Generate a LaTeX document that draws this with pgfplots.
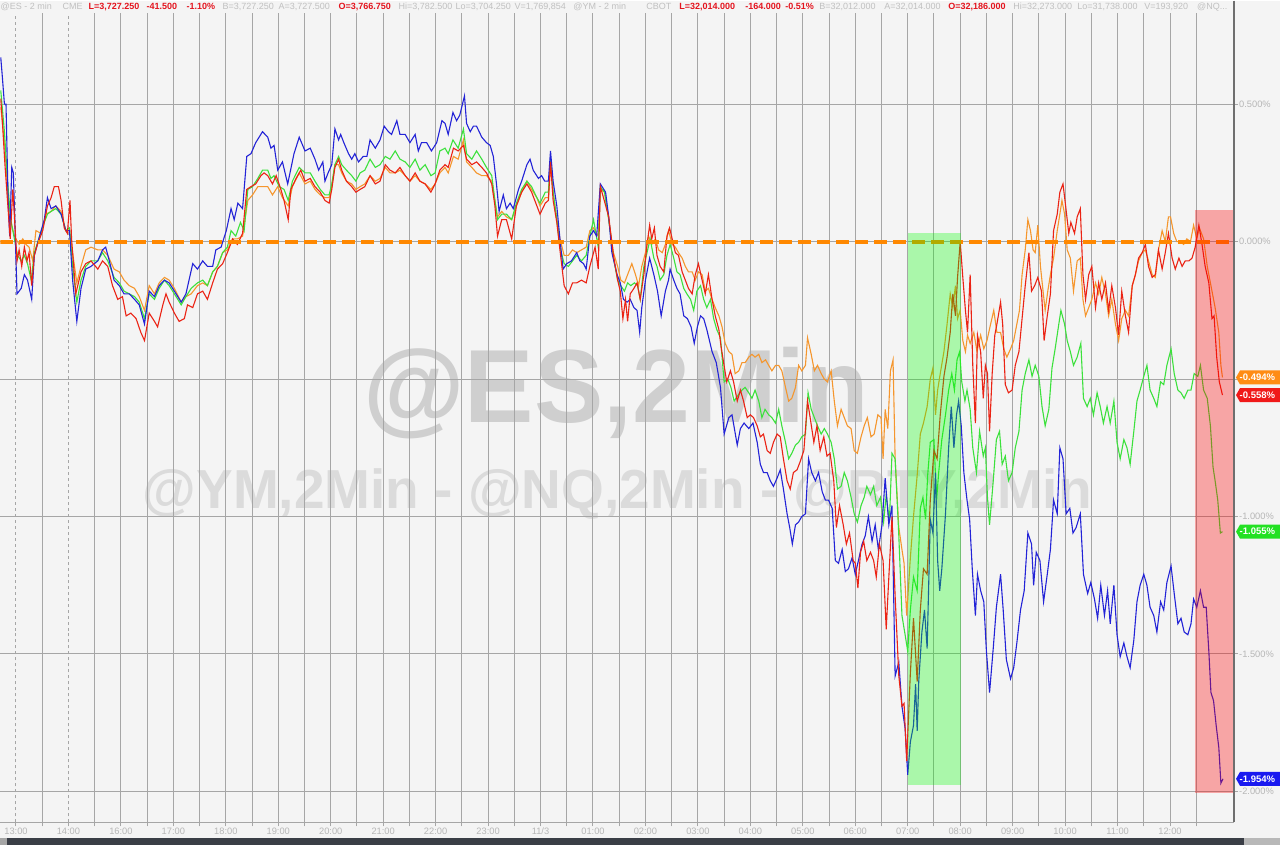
\documentclass[border=0pt]{standalone}
\usepackage{pgfplots}
\pgfplotsset{compat=1.18}
\usepackage{fontspec}
\setmainfont{Liberation Sans}
\definecolor{bg}{RGB}{244,244,244}
\definecolor{gridc}{RGB}{166,166,166}
\definecolor{lbl}{RGB}{182,182,182}
\definecolor{hdr}{RGB}{192,192,192}
\definecolor{hred}{RGB}{228,20,30}
\definecolor{cblue}{RGB}{35,35,215}
\definecolor{cred}{RGB}{235,35,20}
\definecolor{corange}{RGB}{245,150,45}
\definecolor{cgreen}{RGB}{60,225,60}
\definecolor{zorange}{RGB}{255,136,0}
\definecolor{wmA}{RGB}{207,207,207}
\definecolor{wmB}{RGB}{219,219,219}
\definecolor{darkbar}{RGB}{58,62,70}
\definecolor{bordc}{RGB}{110,110,110}
\definecolor{boxo}{RGB}{255,140,20}
\definecolor{boxr}{RGB}{240,25,25}
\definecolor{boxg}{RGB}{35,225,35}
\definecolor{boxb}{RGB}{25,25,240}
\begin{document}
\begin{tikzpicture}[x=1pt,y=1pt]
\fill[bg] (0,-23) rectangle (1280,822);
% watermarks
\node[anchor=base, text=wmA, font=\bfseries\fontsize{104}{104}\selectfont, inner sep=0] at (616,400) {@ES,2Min};
\node[anchor=base, text=wmB, font=\bfseries\fontsize{55}{55}\selectfont, inner sep=0] at (617,314) {@YM,2Min - @NQ,2Min - @RTY,2Min};
\begin{axis}[
  scale only axis, width=1234pt, height=810pt,
  xmin=-0.295, xmax=23.22, ymin=-2.1127, ymax=0.8327,
  axis line style={draw=none},
  xtick={2,...,22},
  xticklabels={16:00,17:00,18:00,19:00,20:00,21:00,22:00,23:00,11/3,01:00,02:00,03:00,04:00,05:00,06:00,07:00,08:00,09:00,10:00,11:00,12:00},
  extra x ticks={0,1},
  extra x tick labels={13:00,14:00},
  extra x tick style={grid=major, major grid style={draw=gridc, line width=1pt, dash pattern=on 3pt off 3pt}},
  minor xtick={0.5,1.5,...,22.5},
  xmajorgrids, xminorgrids, ymajorgrids,
  major grid style={draw=gridc, line width=1pt},
  minor grid style={draw=gridc, line width=1pt},
  ytick={-2,-1.5,-1,-0.5,0,0.5},
  yticklabels={-2.000\%,-1.500\%,-1.000\%,-0.500\%,0.000\%,0.500\%},
  xtick pos=left, ytick pos=right, yticklabel pos=right,
  tick align=outside,
  major tick length=4pt, minor tick length=4pt,
  tick style={draw=gridc, line width=1pt},
  xticklabel style={font=\fontsize{9.3}{9.3}\selectfont, text=lbl, inner sep=1pt},
  yticklabel style={font=\fontsize{9.3}{9.3}\selectfont, text=lbl, inner sep=1pt, anchor=west},
]
% orange series
\addplot[corange, line width=1.1pt] coordinates {
(-0.29,0.49) (-0.21,0.34) (-0.13,0.10) (-0.03,0.02) (0.06,-0.01) (0.13,0.01) (0.19,-0.01) (0.25,-0.02) (0.32,-0.07) (0.38,0.04) (0.48,0.03) (0.57,0.10) (0.67,0.11) (0.76,0.13) (0.86,0.11) (0.95,0.04) (1.02,0.04) (1.08,-0.04) (1.16,-0.15) (1.24,-0.09) (1.33,-0.03) (1.43,-0.02) (1.56,-0.03) (1.65,-0.03) (1.75,-0.05) (1.87,-0.10) (1.97,-0.11) (2.06,-0.14) (2.16,-0.16) (2.26,-0.17) (2.35,-0.20) (2.45,-0.25) (2.54,-0.16) (2.64,-0.19) (2.73,-0.15) (2.83,-0.13) (2.92,-0.14) (3.02,-0.17) (3.15,-0.22) (3.24,-0.20) (3.34,-0.19) (3.46,-0.16) (3.56,-0.15) (3.65,-0.16) (3.75,-0.11) (3.84,-0.09) (3.94,-0.04) (4.03,-0.03) (4.13,0.01) (4.22,0.01) (4.32,0.02) (4.42,0.15) (4.51,0.17) (4.61,0.20) (4.70,0.20) (4.80,0.20) (4.89,0.17) (4.99,0.20) (5.08,0.16) (5.19,0.13) (5.27,0.20) (5.40,0.25)
(5.51,0.21) (5.61,0.22) (5.70,0.19) (5.80,0.17) (5.89,0.16) (5.97,0.16) (6.02,0.20) (6.08,0.28) (6.15,0.28) (6.21,0.25) (6.30,0.22) (6.40,0.21) (6.48,0.19) (6.56,0.20) (6.65,0.21) (6.75,0.24) (6.85,0.22) (6.94,0.23) (7.04,0.27) (7.13,0.25) (7.23,0.25) (7.32,0.26) (7.42,0.24) (7.51,0.22) (7.61,0.24) (7.70,0.22) (7.80,0.21) (7.91,0.19) (7.99,0.21) (8.08,0.25) (8.18,0.27) (8.24,0.25) (8.34,0.31) (8.43,0.30) (8.53,0.37) (8.59,0.29) (8.69,0.27) (8.78,0.25) (8.88,0.24) (8.97,0.24) (9.07,0.22) (9.13,0.15) (9.18,0.09) (9.26,0.11) (9.35,0.09) (9.45,0.08) (9.54,0.13) (9.64,0.18) (9.74,0.22) (9.83,0.19) (9.93,0.16) (9.99,0.13) (10.09,0.16) (10.15,0.16) (10.19,0.28) (10.24,0.18) (10.31,0.08) (10.37,0.01) (10.45,-0.05) (10.53,-0.05) (10.61,-0.03) (10.69,-0.04) (10.78,-0.03) (10.87,-0.02) (10.94,0.04) (11.01,0.05) (11.10,0.02)
(11.14,0.19) (11.22,0.18) (11.30,0.08) (11.39,-0.04) (11.47,-0.09) (11.53,-0.14) (11.60,-0.15) (11.68,-0.11) (11.74,-0.08) (11.81,-0.12) (11.87,-0.16) (11.93,-0.09) (12.00,-0.04) (12.06,0.02) (12.12,-0.01) (12.19,0.01) (12.25,-0.03) (12.32,-0.04) (12.38,-0.01) (12.44,0.04) (12.51,-0.01) (12.57,-0.02) (12.63,-0.04) (12.70,-0.06) (12.76,-0.09) (12.82,-0.11) (12.89,-0.11) (12.95,-0.14) (13.01,-0.11) (13.08,-0.12) (13.14,-0.18) (13.20,-0.17) (13.27,-0.21) (13.33,-0.24) (13.40,-0.27) (13.46,-0.31) (13.52,-0.37) (13.59,-0.40) (13.65,-0.41) (13.71,-0.48) (13.78,-0.47) (13.84,-0.44) (13.90,-0.44) (13.97,-0.42) (14.03,-0.41) (14.09,-0.42) (14.16,-0.41) (14.22,-0.44) (14.29,-0.43) (14.35,-0.45) (14.41,-0.47) (14.48,-0.45) (14.54,-0.45) (14.60,-0.47) (14.67,-0.53) (14.73,-0.58) (14.79,-0.57) (14.86,-0.53) (14.92,-0.45) (14.98,-0.47) (15.05,-0.45) (15.09,-0.35) (15.16,-0.41) (15.22,-0.47) (15.28,-0.45) (15.35,-0.48) (15.41,-0.50) (15.47,-0.51) (15.54,-0.47) (15.60,-0.58) (15.66,-0.67) (15.73,-0.61) (15.79,-0.64) (15.85,-0.67) (15.92,-0.68) (15.98,-0.76) (16.04,-0.77) (16.11,-0.71) (16.17,-0.67) (16.23,-0.64) (16.30,-0.71) (16.36,-0.70) (16.43,-0.63) (16.49,-0.64) (16.53,-0.79) (16.57,-0.61) (16.62,-0.68) (16.67,-0.47) (16.72,-0.43) (16.76,-0.79) (16.83,-1.04) (16.89,-1.12) (16.93,-1.17) (16.98,-1.36)
(17.05,-1.15) (17.11,-1.00) (17.18,-0.85) (17.24,-0.70) (17.30,-0.66) (17.37,-0.60) (17.43,-0.50) (17.48,-0.46) (17.53,-0.63) (17.57,-0.54) (17.62,-0.48) (17.69,-0.40) (17.75,-0.30) (17.81,-0.19) (17.86,-0.24) (17.91,-0.16) (17.95,-0.28) (18.00,-0.25) (18.05,-0.36) (18.10,-0.40) (18.14,-0.34) (18.19,-0.37) (18.26,-0.33) (18.32,-0.40) (18.39,-0.34) (18.45,-0.39) (18.51,-0.36) (18.58,-0.30) (18.64,-0.25) (18.70,-0.33) (18.77,-0.33) (18.83,-0.39) (18.89,-0.42) (18.96,-0.39) (19.02,-0.36) (19.08,-0.30) (19.13,-0.25) (19.18,-0.12) (19.24,-0.03) (19.29,0.08) (19.34,0.04) (19.39,-0.03) (19.43,-0.04) (19.48,0.06) (19.53,-0.09) (19.58,-0.18) (19.62,-0.25) (19.67,-0.18) (19.72,-0.12) (19.78,-0.06) (19.85,0.04) (19.90,0.10) (19.94,0.15) (19.99,0.10) (20.04,-0.03) (20.10,-0.06) (20.16,-0.18) (20.23,-0.07) (20.29,-0.06) (20.34,-0.21) (20.39,-0.27) (20.45,-0.24) (20.51,-0.21) (20.58,-0.15) (20.64,-0.19) (20.70,-0.13) (20.77,-0.19) (20.83,-0.27) (20.89,-0.21) (20.96,-0.30) (21.02,-0.36) (21.08,-0.28) (21.15,-0.25) (21.21,-0.27) (21.28,-0.16) (21.34,-0.12) (21.40,-0.07) (21.47,-0.04) (21.53,-0.03) (21.59,-0.07) (21.66,-0.12) (21.72,-0.13) (21.78,-0.03) (21.85,0.04) (21.91,0.00) (21.97,0.09) (22.01,0.09) (22.07,0.03) (22.13,0.00) (22.20,0.00) (22.26,-0.01) (22.32,0.01) (22.39,0.00) (22.45,0.06) (22.51,0.01) (22.56,0.05) (22.64,0.01) (22.71,-0.09) (22.77,-0.15) (22.86,-0.24) (22.93,-0.33) (22.97,-0.45) (23.00,-0.494)
};
% green series
\addplot[cgreen, line width=1.1pt] coordinates {
(-0.29,0.55) (-0.22,0.40) (-0.16,0.22) (-0.10,0.08) (-0.03,0.01) (0.03,-0.05) (0.10,-0.07) (0.16,-0.05) (0.22,-0.08) (0.29,-0.14) (0.35,-0.04) (0.45,0.02) (0.54,0.07) (0.60,0.10) (0.67,0.11) (0.76,0.12) (0.86,0.10) (0.95,0.04) (1.02,0.05) (1.08,-0.09) (1.16,-0.22) (1.24,-0.14) (1.33,-0.09) (1.43,-0.07) (1.56,-0.07) (1.65,-0.04) (1.75,-0.07) (1.87,-0.13) (1.97,-0.15) (2.06,-0.18) (2.16,-0.19) (2.26,-0.20) (2.35,-0.22) (2.45,-0.28) (2.54,-0.19) (2.64,-0.21) (2.73,-0.17) (2.83,-0.14) (2.92,-0.16) (3.02,-0.19) (3.15,-0.23) (3.24,-0.20) (3.34,-0.17) (3.46,-0.15) (3.56,-0.14) (3.65,-0.16) (3.75,-0.11) (3.84,-0.09) (3.94,-0.04) (4.03,-0.02) (4.10,0.04) (4.19,0.02) (4.28,0.07) (4.35,0.04) (4.42,0.19) (4.51,0.20) (4.61,0.23) (4.70,0.26) (4.80,0.26) (4.86,0.23) (4.92,0.24) (5.02,0.20) (5.11,0.19) (5.19,0.15) (5.27,0.22) (5.40,0.27)
(5.51,0.25) (5.61,0.25) (5.70,0.22) (5.80,0.19) (5.89,0.17) (5.97,0.17) (6.02,0.21) (6.08,0.28) (6.15,0.31) (6.21,0.28) (6.30,0.26) (6.40,0.24) (6.48,0.22) (6.56,0.25) (6.65,0.26) (6.75,0.30) (6.85,0.27) (6.94,0.28) (7.04,0.31) (7.13,0.30) (7.23,0.33) (7.32,0.30) (7.42,0.29) (7.51,0.27) (7.61,0.30) (7.70,0.26) (7.80,0.28) (7.91,0.24) (7.99,0.25) (8.08,0.33) (8.18,0.34) (8.24,0.32) (8.33,0.37) (8.43,0.34) (8.53,0.41) (8.59,0.32) (8.69,0.30) (8.78,0.33) (8.88,0.30) (8.97,0.27) (9.07,0.24) (9.13,0.15) (9.18,0.08) (9.26,0.10) (9.35,0.10) (9.45,0.08) (9.54,0.14) (9.64,0.19) (9.74,0.22) (9.83,0.20) (9.93,0.16) (9.99,0.14) (10.09,0.18) (10.15,0.18) (10.19,0.30) (10.24,0.18) (10.31,0.08) (10.37,-0.02) (10.45,-0.08) (10.53,-0.09) (10.61,-0.07) (10.69,-0.05) (10.78,-0.07) (10.87,-0.05) (10.94,0.02) (11.01,0.08) (11.10,-0.02)
(11.14,0.20) (11.22,0.18) (11.30,0.08) (11.39,-0.06) (11.47,-0.14) (11.53,-0.16) (11.60,-0.18) (11.66,-0.15) (11.72,-0.16) (11.79,-0.15) (11.85,-0.16) (11.90,-0.21) (11.97,-0.09) (12.03,-0.04) (12.09,0.01) (12.16,-0.06) (12.22,-0.09) (12.28,-0.14) (12.35,-0.12) (12.41,-0.05) (12.47,-0.01) (12.54,-0.06) (12.60,-0.11) (12.66,-0.12) (12.73,-0.17) (12.79,-0.19) (12.86,-0.21) (12.92,-0.25) (12.98,-0.18) (13.05,-0.16) (13.11,-0.21) (13.17,-0.24) (13.24,-0.21) (13.30,-0.28) (13.36,-0.32) (13.43,-0.35) (13.50,-0.51) (13.57,-0.50) (13.63,-0.53) (13.69,-0.58) (13.76,-0.56) (13.84,-0.54) (13.90,-0.53) (13.97,-0.55) (14.03,-0.57) (14.09,-0.54) (14.16,-0.58) (14.22,-0.64) (14.28,-0.61) (14.35,-0.63) (14.41,-0.64) (14.48,-0.66) (14.54,-0.61) (14.60,-0.67) (14.67,-0.73) (14.73,-0.79) (14.79,-0.77) (14.86,-0.74) (14.92,-0.73) (14.98,-0.71) (15.05,-0.70) (15.10,-0.55) (15.16,-0.61) (15.22,-0.64) (15.28,-0.67) (15.35,-0.70) (15.41,-0.68) (15.47,-0.70) (15.54,-0.73) (15.60,-0.79) (15.66,-0.90) (15.73,-0.89) (15.79,-0.84) (15.85,-0.87) (15.92,-0.93) (15.98,-0.99) (16.04,-1.02) (16.11,-0.96) (16.17,-0.93) (16.22,-0.89) (16.29,-0.92) (16.35,-0.89) (16.41,-0.96) (16.48,-0.93) (16.54,-1.02) (16.59,-0.92) (16.65,-1.02) (16.70,-0.77) (16.76,-0.79) (16.83,-1.07) (16.89,-1.36) (16.95,-1.43)
(17.00,-1.49) (17.05,-1.34) (17.11,-1.22) (17.18,-1.27) (17.24,-0.97) (17.29,-0.93) (17.34,-1.01) (17.38,-0.85) (17.43,-0.73) (17.50,-0.72) (17.55,-0.94) (17.59,-0.84) (17.65,-0.72) (17.72,-0.63) (17.78,-0.54) (17.84,-0.48) (17.89,-0.54) (17.94,-0.43) (17.99,-0.40) (18.03,-0.51) (18.09,-0.58) (18.13,-0.54) (18.19,-0.61) (18.24,-0.75) (18.31,-0.84) (18.37,-0.69) (18.44,-0.78) (18.48,-0.75) (18.52,-0.93) (18.56,-1.03) (18.63,-0.87) (18.69,-0.72) (18.75,-0.69) (18.80,-0.81) (18.86,-0.78) (18.92,-0.87) (18.99,-0.84) (19.05,-0.75) (19.12,-0.69) (19.18,-0.54) (19.24,-0.48) (19.31,-0.43) (19.37,-0.49) (19.43,-0.45) (19.50,-0.49) (19.56,-0.60) (19.62,-0.67) (19.69,-0.61) (19.75,-0.46) (19.81,-0.39) (19.88,-0.30) (19.92,-0.25) (19.99,-0.30) (20.04,-0.36) (20.10,-0.40) (20.16,-0.45) (20.23,-0.42) (20.30,-0.37) (20.35,-0.57) (20.42,-0.60) (20.48,-0.57) (20.54,-0.63) (20.61,-0.55) (20.67,-0.60) (20.73,-0.66) (20.80,-0.60) (20.86,-0.66) (20.93,-0.58) (20.99,-0.73) (21.05,-0.79) (21.12,-0.72) (21.18,-0.75) (21.24,-0.81) (21.31,-0.69) (21.37,-0.58) (21.43,-0.54) (21.50,-0.49) (21.56,-0.45) (21.62,-0.54) (21.69,-0.57) (21.75,-0.60) (21.82,-0.51) (21.88,-0.52) (21.94,-0.45) (22.02,-0.39) (22.08,-0.48) (22.15,-0.54) (22.21,-0.55) (22.27,-0.57) (22.34,-0.54) (22.40,-0.54) (22.46,-0.48) (22.53,-0.49) (22.58,-0.45) (22.64,-0.54) (22.71,-0.57) (22.77,-0.67) (22.82,-0.82) (22.86,-0.87) (22.91,-0.94) (22.96,-1.06) (23.00,-1.055)
};
% blue series
\addplot[cblue, line width=1.1pt] coordinates {
(-0.29,0.67) (-0.26,0.60) (-0.22,0.50) (-0.19,0.50) (-0.15,0.15) (-0.12,0.02) (-0.08,0.27) (-0.05,0.25) (0.02,-0.19) (0.10,-0.17) (0.16,-0.12) (0.22,-0.14) (0.30,-0.21) (0.35,-0.05) (0.45,0.02) (0.54,0.08) (0.60,0.16) (0.67,0.12) (0.76,0.13) (0.86,0.10) (0.95,0.04) (1.02,0.04) (1.08,-0.14) (1.16,-0.29) (1.24,-0.17) (1.33,-0.10) (1.43,-0.09) (1.56,-0.07) (1.65,-0.03) (1.71,-0.02) (1.78,-0.07) (1.87,-0.14) (1.97,-0.16) (2.06,-0.19) (2.16,-0.19) (2.26,-0.21) (2.35,-0.23) (2.45,-0.30) (2.54,-0.18) (2.64,-0.20) (2.73,-0.16) (2.83,-0.14) (2.92,-0.15) (3.02,-0.18) (3.15,-0.22) (3.24,-0.19) (3.37,-0.08) (3.46,-0.10) (3.56,-0.07) (3.65,-0.09) (3.75,-0.09) (3.81,-0.03) (3.91,-0.02) (4.01,0.04) (4.10,0.12) (4.16,0.08) (4.23,0.14) (4.32,0.12) (4.40,0.31) (4.48,0.32) (4.57,0.36) (4.70,0.40) (4.80,0.38) (4.86,0.34) (4.92,0.35) (4.99,0.26) (5.08,0.29) (5.18,0.21) (5.30,0.32) (5.40,0.38)
(5.51,0.33) (5.61,0.34) (5.70,0.30) (5.77,0.26) (5.85,0.29) (5.89,0.22) (5.95,0.25) (6.02,0.28) (6.08,0.41) (6.15,0.37) (6.19,0.39) (6.25,0.36) (6.34,0.32) (6.40,0.30) (6.46,0.32) (6.53,0.29) (6.62,0.31) (6.69,0.31) (6.75,0.37) (6.85,0.34) (6.94,0.37) (7.02,0.42) (7.10,0.40) (7.16,0.39) (7.26,0.44) (7.32,0.39) (7.42,0.39) (7.51,0.36) (7.61,0.39) (7.67,0.33) (7.73,0.36) (7.83,0.36) (7.92,0.33) (8.02,0.36) (8.12,0.44) (8.18,0.43) (8.24,0.39) (8.33,0.47) (8.40,0.44) (8.46,0.46) (8.55,0.53) (8.59,0.43) (8.66,0.40) (8.72,0.42) (8.78,0.42) (8.88,0.38) (8.97,0.36) (9.04,0.35) (9.10,0.31) (9.16,0.21) (9.21,0.11) (9.29,0.17) (9.35,0.12) (9.42,0.14) (9.48,0.12) (9.58,0.19) (9.64,0.22) (9.74,0.28) (9.80,0.30) (9.86,0.26) (9.96,0.23) (10.02,0.24) (10.08,0.22) (10.15,0.22) (10.19,0.33) (10.24,0.22) (10.31,0.13) (10.37,0.01) (10.43,-0.10) (10.50,-0.08) (10.59,-0.07) (10.69,-0.04) (10.75,-0.07) (10.82,-0.08) (10.87,-0.10) (10.94,0.02) (11.01,0.04) (11.07,0.02)
(11.14,0.21) (11.24,0.18) (11.30,0.09) (11.36,-0.04) (11.46,-0.12) (11.52,-0.15) (11.58,-0.21) (11.65,-0.22) (11.71,-0.21) (11.78,-0.24) (11.84,-0.25) (11.89,-0.33) (11.93,-0.24) (12.00,-0.14) (12.08,-0.06) (12.16,-0.12) (12.23,-0.18) (12.30,-0.27) (12.38,-0.18) (12.44,-0.14) (12.47,-0.10) (12.54,-0.14) (12.60,-0.17) (12.66,-0.19) (12.73,-0.27) (12.80,-0.28) (12.87,-0.31) (12.93,-0.37) (12.99,-0.31) (13.05,-0.27) (13.11,-0.28) (13.17,-0.32) (13.27,-0.40) (13.35,-0.44) (13.43,-0.53) (13.50,-0.70) (13.59,-0.64) (13.65,-0.63) (13.75,-0.74) (13.81,-0.68) (13.88,-0.66) (13.97,-0.68) (14.05,-0.66) (14.13,-0.73) (14.19,-0.81) (14.25,-0.84) (14.32,-0.84) (14.38,-0.87) (14.44,-0.89) (14.51,-0.86) (14.57,-0.83) (14.63,-0.90) (14.70,-0.99) (14.75,-1.04) (14.80,-1.10) (14.86,-1.03) (14.92,-1.02) (14.98,-1.00) (15.05,-0.99) (15.11,-0.79) (15.17,-0.84) (15.24,-0.87) (15.30,-0.84) (15.37,-0.91) (15.43,-0.94) (15.49,-0.94) (15.56,-0.97) (15.62,-1.16) (15.68,-1.17) (15.75,-1.12) (15.81,-1.20) (15.87,-1.19) (15.94,-1.15) (16.00,-1.21) (16.06,-1.16) (16.13,-1.10) (16.19,-1.07) (16.25,-1.00) (16.32,-1.09) (16.38,-1.03) (16.44,-1.12) (16.51,-1.03) (16.57,-0.86) (16.64,-1.03) (16.70,-0.96) (16.76,-1.58) (16.83,-1.53) (16.89,-1.69) (16.95,-1.77)
(17.00,-1.94) (17.05,-1.82) (17.11,-1.76) (17.15,-1.61) (17.18,-1.78) (17.21,-1.60) (17.27,-1.42) (17.32,-1.34) (17.37,-1.48) (17.43,-1.01) (17.48,-1.06) (17.53,-0.84) (17.57,-1.16) (17.61,-1.27) (17.65,-1.19) (17.72,-0.99) (17.78,-0.75) (17.83,-0.60) (17.88,-0.75) (17.93,-0.63) (17.97,-0.58) (18.02,-0.67) (18.07,-0.84) (18.13,-0.94) (18.18,-1.01) (18.23,-1.19) (18.29,-1.36) (18.33,-1.21) (18.39,-1.27) (18.45,-1.31) (18.50,-1.49) (18.56,-1.64) (18.63,-1.48) (18.69,-1.33) (18.77,-1.21) (18.82,-1.34) (18.88,-1.52) (18.96,-1.59) (19.02,-1.55) (19.08,-1.46) (19.15,-1.34) (19.22,-1.27) (19.29,-1.06) (19.36,-1.10) (19.40,-1.25) (19.45,-1.13) (19.52,-1.16) (19.59,-1.31) (19.66,-1.21) (19.72,-1.12) (19.78,-0.94) (19.85,-0.99) (19.90,-0.75) (19.96,-0.79) (20.02,-0.99) (20.09,-0.97) (20.15,-1.06) (20.21,-1.04) (20.29,-0.99) (20.35,-1.21) (20.43,-1.28) (20.49,-1.24) (20.56,-1.30) (20.62,-1.37) (20.68,-1.25) (20.75,-1.36) (20.81,-1.27) (20.86,-1.39) (20.93,-1.25) (20.99,-1.43) (21.05,-1.51) (21.12,-1.46) (21.18,-1.51) (21.24,-1.55) (21.31,-1.45) (21.37,-1.31) (21.43,-1.25) (21.50,-1.21) (21.56,-1.25) (21.62,-1.33) (21.69,-1.36) (21.75,-1.42) (21.82,-1.31) (21.88,-1.34) (21.94,-1.24) (22.02,-1.18) (22.08,-1.28) (22.15,-1.39) (22.21,-1.37) (22.27,-1.42) (22.34,-1.43) (22.40,-1.39) (22.45,-1.30) (22.51,-1.33) (22.58,-1.27) (22.64,-1.33) (22.69,-1.33) (22.74,-1.49) (22.78,-1.64) (22.83,-1.67) (22.88,-1.76) (22.93,-1.84) (22.97,-1.97) (23.01,-1.954)
};
% red series
\addplot[cred, line width=1.1pt] coordinates {
(-0.29,0.52) (-0.26,0.44) (-0.21,0.28) (-0.11,0.01) (-0.06,0.19) (0.02,-0.07) (0.06,-0.03) (0.11,-0.09) (0.16,-0.02) (0.21,-0.07) (0.25,-0.04) (0.30,-0.16) (0.35,-0.05) (0.41,-0.01) (0.51,0.04) (0.60,0.13) (0.67,0.16) (0.73,0.20) (0.81,0.20) (0.86,0.15) (0.92,0.05) (0.98,0.03) (1.03,0.15) (1.06,0.01) (1.14,-0.19) (1.24,-0.11) (1.33,-0.08) (1.43,-0.07) (1.56,-0.10) (1.65,-0.07) (1.75,-0.09) (1.84,-0.16) (1.94,-0.21) (2.03,-0.20) (2.10,-0.27) (2.19,-0.26) (2.29,-0.28) (2.38,-0.33) (2.45,-0.36) (2.54,-0.26) (2.64,-0.29) (2.70,-0.31) (2.80,-0.23) (2.86,-0.19) (2.92,-0.22) (3.02,-0.26) (3.11,-0.29) (3.21,-0.28) (3.27,-0.23) (3.37,-0.24) (3.46,-0.19) (3.56,-0.18) (3.65,-0.21) (3.75,-0.15) (3.84,-0.10) (3.94,-0.08) (4.03,-0.04) (4.13,0.01) (4.22,-0.01) (4.32,0.03) (4.40,0.19) (4.48,0.20) (4.57,0.21) (4.67,0.24) (4.73,0.25) (4.80,0.24) (4.89,0.21) (4.96,0.24) (5.05,0.19) (5.11,0.15) (5.19,0.08) (5.24,0.19) (5.34,0.23) (5.43,0.26)
(5.51,0.22) (5.61,0.23) (5.70,0.20) (5.80,0.18) (5.89,0.15) (5.97,0.14) (6.02,0.19) (6.08,0.27) (6.15,0.30) (6.21,0.26) (6.30,0.22) (6.40,0.20) (6.48,0.18) (6.56,0.19) (6.65,0.20) (6.75,0.24) (6.85,0.21) (6.94,0.22) (7.04,0.28) (7.13,0.26) (7.23,0.25) (7.32,0.27) (7.42,0.24) (7.51,0.22) (7.61,0.25) (7.70,0.22) (7.80,0.21) (7.91,0.18) (7.99,0.21) (8.08,0.26) (8.18,0.28) (8.24,0.27) (8.34,0.34) (8.43,0.33) (8.53,0.35) (8.59,0.30) (8.69,0.28) (8.78,0.29) (8.88,0.27) (8.97,0.25) (9.07,0.21) (9.13,0.13) (9.18,0.02) (9.26,0.08) (9.35,0.08) (9.45,0.01) (9.54,0.13) (9.64,0.18) (9.74,0.21) (9.83,0.18) (9.93,0.13) (9.99,0.10) (10.09,0.14) (10.15,0.15) (10.19,0.29) (10.24,0.15) (10.31,0.07) (10.37,-0.03) (10.45,-0.16) (10.53,-0.19) (10.61,-0.15) (10.69,-0.15) (10.78,-0.14) (10.87,-0.15) (10.94,-0.09) (11.04,-0.02) (11.10,-0.10)
(11.14,0.20) (11.20,0.16) (11.30,0.09) (11.39,-0.05) (11.47,-0.14) (11.52,-0.18) (11.57,-0.28) (11.62,-0.21) (11.66,-0.29) (11.71,-0.19) (11.78,-0.17) (11.84,-0.15) (11.90,-0.21) (11.97,-0.12) (12.03,-0.01) (12.08,0.06) (12.12,0.01) (12.17,0.05) (12.22,-0.05) (12.28,-0.09) (12.35,-0.11) (12.41,0.02) (12.46,0.05) (12.51,0.01) (12.57,-0.04) (12.63,-0.05) (12.70,-0.11) (12.76,-0.14) (12.82,-0.17) (12.89,-0.19) (12.95,-0.12) (13.01,-0.08) (13.08,-0.14) (13.14,-0.19) (13.20,-0.12) (13.27,-0.21) (13.33,-0.27) (13.40,-0.32) (13.44,-0.38) (13.49,-0.44) (13.55,-0.51) (13.62,-0.47) (13.68,-0.51) (13.75,-0.58) (13.81,-0.54) (13.87,-0.58) (13.94,-0.64) (14.00,-0.63) (14.06,-0.64) (14.13,-0.67) (14.19,-0.71) (14.25,-0.70) (14.32,-0.76) (14.38,-0.77) (14.44,-0.73) (14.51,-0.70) (14.57,-0.71) (14.63,-0.79) (14.70,-0.87) (14.76,-0.90) (14.82,-0.84) (14.89,-0.83) (14.95,-0.80) (15.02,-0.76) (15.09,-0.58) (15.14,-0.64) (15.21,-0.73) (15.27,-0.67) (15.33,-0.76) (15.40,-0.71) (15.46,-0.78) (15.52,-0.77) (15.59,-0.87) (15.64,-1.04) (15.70,-0.96) (15.77,-1.03) (15.83,-1.10) (15.89,-1.06) (15.96,-1.16) (16.00,-1.17) (16.05,-1.26) (16.10,-1.13) (16.16,-1.09) (16.22,-1.16) (16.29,-1.13) (16.35,-1.16) (16.40,-1.22) (16.46,-1.10) (16.53,-1.16) (16.59,-1.41) (16.64,-1.22) (16.70,-1.00) (16.76,-1.29) (16.83,-1.58) (16.89,-1.69) (16.93,-1.68) (16.98,-1.89)
(17.05,-1.57) (17.11,-1.37) (17.18,-1.60) (17.24,-1.34) (17.30,-1.19) (17.37,-1.21) (17.43,-0.94) (17.50,-0.76) (17.56,-0.79) (17.62,-0.63) (17.69,-0.49) (17.75,-0.42) (17.81,-0.33) (17.86,-0.19) (17.91,-0.27) (17.95,-0.13) (18.00,0.00) (18.05,-0.13) (18.10,-0.25) (18.14,-0.33) (18.19,-0.12) (18.24,-0.45) (18.29,-0.66) (18.33,-0.34) (18.39,-0.40) (18.44,-0.57) (18.48,-0.45) (18.52,-0.48) (18.56,-0.69) (18.61,-0.48) (18.66,-0.34) (18.70,-0.30) (18.77,-0.22) (18.81,-0.30) (18.86,-0.52) (18.92,-0.55) (18.99,-0.54) (19.05,-0.45) (19.12,-0.40) (19.18,-0.28) (19.24,-0.16) (19.31,-0.04) (19.36,-0.18) (19.42,-0.16) (19.48,-0.13) (19.55,-0.18) (19.60,-0.36) (19.66,-0.27) (19.72,-0.19) (19.78,0.04) (19.85,0.10) (19.90,0.18) (19.96,0.21) (20.01,0.13) (20.07,0.03) (20.11,0.07) (20.18,0.03) (20.23,0.09) (20.29,0.12) (20.34,-0.12) (20.39,-0.21) (20.45,-0.12) (20.51,-0.09) (20.58,-0.24) (20.64,-0.15) (20.70,-0.21) (20.77,-0.15) (20.83,-0.25) (20.89,-0.16) (20.96,-0.24) (21.02,-0.34) (21.08,-0.18) (21.15,-0.27) (21.21,-0.33) (21.28,-0.16) (21.34,-0.12) (21.40,-0.06) (21.47,-0.04) (21.53,-0.01) (21.59,-0.09) (21.66,-0.13) (21.72,-0.12) (21.78,-0.03) (21.85,-0.10) (21.91,-0.04) (21.97,0.03) (22.04,-0.06) (22.10,-0.10) (22.17,-0.06) (22.23,-0.09) (22.29,-0.07) (22.36,-0.07) (22.42,-0.06) (22.48,-0.02) (22.55,0.06) (22.61,-0.01) (22.67,-0.09) (22.74,-0.15) (22.80,-0.28) (22.84,-0.27) (22.89,-0.42) (22.94,-0.51) (23.00,-0.558)
};
% zero line
\addplot[zorange, line width=4pt, dash pattern=on 13pt off 6pt] coordinates {(-0.295,0) (23.22,0)};
% shaded zones
\fill[green, opacity=0.3] (axis cs:17.0,0.033) rectangle (axis cs:18.01,-1.978);
\fill[red, opacity=0.32] (axis cs:22.48,0.116) rectangle (axis cs:23.22,-2.004);
\end{axis}
% axis frame
\draw[gridc, line width=1pt] (0,0) -- (1234,0);
\draw[bordc, line width=1.5pt] (1234,822) -- (1234,0);
% bottom bar
\fill[darkbar] (0,-23) rectangle (1280,-16);
\fill[black!35] (0,-23) rectangle (7,-16);
\fill[black!28] (1244,-23) rectangle (1280,-16);
% header
\begin{scope}[every node/.style={anchor=west, inner sep=0, font=\fontsize{9}{9}\selectfont, text=hdr}]
\node at (0,816) {@ES - 2 min};
\node at (62,816) {CME};
\node[text=hred, font=\bfseries\fontsize{9}{9}\selectfont] at (88,816) {L=3,727.250};
\node[text=hred, font=\bfseries\fontsize{9}{9}\selectfont] at (146,816) {-41.500};
\node[text=hred, font=\bfseries\fontsize{9}{9}\selectfont] at (186,816) {-1.10\%};
\node at (222,816) {B=3,727.250};
\node at (278,816) {A=3,727.500};
\node[text=hred, font=\bfseries\fontsize{9}{9}\selectfont] at (338,816) {O=3,766.750};
\node at (398,816) {Hi=3,782.500};
\node at (455,816) {Lo=3,704.250};
\node at (514,816) {V=1,769,854};
\node at (573,816) {@YM - 2 min};
\node at (646,816) {CBOT};
\node[text=hred, font=\bfseries\fontsize{9}{9}\selectfont] at (679,816) {L=32,014.000};
\node[text=hred, font=\bfseries\fontsize{9}{9}\selectfont] at (745,816) {-164.000};
\node[text=hred, font=\bfseries\fontsize{9}{9}\selectfont] at (785,816) {-0.51\%};
\node at (819,816) {B=32,012.000};
\node at (884,816) {A=32,014.000};
\node[text=hred, font=\bfseries\fontsize{9}{9}\selectfont] at (948,816) {O=32,186.000};
\node at (1013,816) {Hi=32,273.000};
\node at (1077,816) {Lo=31,738.000};
\node at (1144,816) {V=193,920};
\node at (1197,816) {@NQ...};
\end{scope}
% value boxes
\foreach \yy/\cc/\tt in {445.1/boxo/-0.494\%, 427.5/boxr/-0.558\%, 290.9/boxg/-1.055\%, 43.6/boxb/-1.954\%}{
  \fill[\cc] (1236,\yy) -- (1240,\yy+7) -- (1280,\yy+7) -- (1280,\yy-7) -- (1240,\yy-7) -- cycle;
  \node[anchor=west, inner sep=0, text=white, font=\bfseries\fontsize{9.5}{9.5}\selectfont] at (1239.5,\yy) {\tt};
}
\end{tikzpicture}
\end{document}
